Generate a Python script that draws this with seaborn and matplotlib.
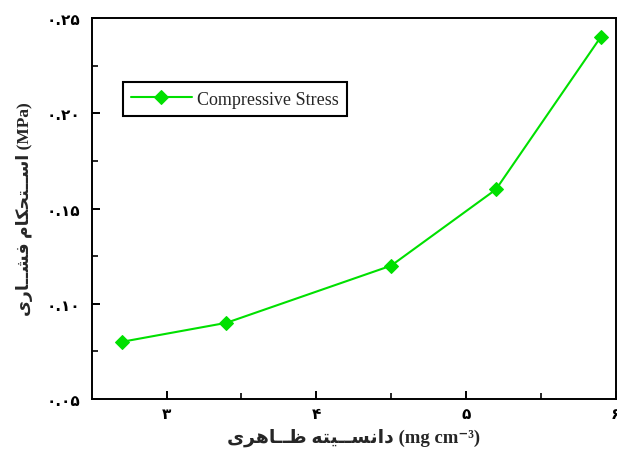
import matplotlib
matplotlib.use("Agg")
import matplotlib.pyplot as plt
import seaborn as sns
import pandas as pd
from matplotlib.ticker import FixedLocator, FixedFormatter

# ---- data ----
density = [2.7, 3.4, 4.5, 5.2, 5.9]
stress = [0.080, 0.090, 0.120, 0.160, 0.240]
series_name = "Compressive Stress"
x_ticks = [3, 4, 5, 6]
x_tick_labels = ["۳", "۴", "۵", "۶"]
y_ticks = [0.05, 0.10, 0.15, 0.20, 0.25]
y_tick_labels = ["۰.۰۵", "۰.۱۰", "۰.۱۵", "۰.۲۰", "۰.۲۵"]
x_label_fa = "دانســیته ظــاهری"
x_label_unit = "(mg cm⁻³)"
y_label_fa = "اســتحکام فشــاری"
y_label_unit = "(MPa)"

# ---- simple Persian shaping (presentation forms, visual order) ----
FORMS = {  # iso, fin, init, med  (None -> does not join to next)
    "ا": ("\uFE8D", "\uFE8E", None, None),
    "د": ("\uFEA9", "\uFEAA", None, None),
    "ر": ("\uFEAD", "\uFEAE", None, None),
    "ن": ("\uFEE5", "\uFEE6", "\uFEE7", "\uFEE8"),
    "س": ("\uFEB1", "\uFEB2", "\uFEB3", "\uFEB4"),
    "ش": ("\uFEB5", "\uFEB6", "\uFEB7", "\uFEB8"),
    "ی": ("\uFBFC", "\uFBFD", "\uFBFE", "\uFBFF"),
    "ت": ("\uFE95", "\uFE96", "\uFE97", "\uFE98"),
    "ه": ("\uFEE9", "\uFEEA", "\uFEEB", "\uFEEC"),
    "ظ": ("\uFEC5", "\uFEC6", "\uFEC7", "\uFEC8"),
    "ح": ("\uFEA1", "\uFEA2", "\uFEA3", "\uFEA4"),
    "ک": ("\uFB8E", "\uFB8F", "\uFB90", "\uFB91"),
    "م": ("\uFEE1", "\uFEE2", "\uFEE3", "\uFEE4"),
    "ف": ("\uFED1", "\uFED2", "\uFED3", "\uFED4"),
    "ـ": ("ـ", "ـ", "ـ", "ـ"),
}


def joins_next(c):
    return c in FORMS and FORMS[c][2] is not None


def joins_prev(c):
    return c in FORMS


def shape(text):
    out = []
    for i, c in enumerate(text):
        if c not in FORMS:
            out.append(c)
            continue
        prev = text[i - 1] if i > 0 else ""
        nxt = text[i + 1] if i + 1 < len(text) else ""
        jp = joins_next(prev) and joins_prev(c)
        jn = joins_next(c) and joins_prev(nxt)
        iso, fin, ini, med = FORMS[c]
        if jp and jn:
            out.append(med)
        elif jp:
            out.append(fin)
        elif jn:
            out.append(ini)
        else:
            out.append(iso)
    return "".join(out)[::-1]


sns.set_style("ticks")
plt.rcParams["font.family"] = ["DejaVu Sans"]

df = pd.DataFrame({"density": density, "stress": stress, "series": series_name})

fig = plt.figure(figsize=(6.17, 4.52), dpi=100)
ax = fig.add_axes([0.1486, 0.115, 0.8493, 0.843])

green = "#00e000"
sns.lineplot(data=df, x="density", y="stress", hue="series", palette=[green],
             marker="D", markersize=7, markeredgecolor=green, linewidth=1.5,
             ax=ax, legend=True)

ax.set_xlim(2.5, 6.0)
ax.set_ylim(0.05, 0.25)
ax.xaxis.set_major_locator(FixedLocator(x_ticks))
ax.xaxis.set_major_formatter(FixedFormatter(x_tick_labels))
ax.yaxis.set_major_locator(FixedLocator(y_ticks))
ax.yaxis.set_major_formatter(FixedFormatter(y_tick_labels))
ax.xaxis.set_minor_locator(FixedLocator([3.5, 4.5, 5.5]))
ax.yaxis.set_minor_locator(FixedLocator([0.075, 0.125, 0.175, 0.225]))

ax.tick_params(axis="y", which="major", direction="in", length=6, width=1.4,
               labelsize=11, pad=8, colors="black")
ax.tick_params(axis="x", which="major", direction="in", length=6, width=1.4,
               labelsize=11, pad=5, colors="black")
ax.tick_params(axis="both", which="minor", direction="in", length=4, width=1.4)
for lab in ax.get_xticklabels() + ax.get_yticklabels():
    lab.set_fontweight("bold")

for s in ax.spines.values():
    s.set_visible(True)
    s.set_linewidth(1.4)
    s.set_color("black")

ax.set_xlabel(shape(x_label_fa) + " " + x_label_unit,
              family=["Liberation Serif", "DejaVu Sans"], fontsize=13.5,
              fontweight="bold", labelpad=5)
ax.set_ylabel(shape(y_label_fa) + " " + y_label_unit,
              family=["Liberation Serif", "DejaVu Sans"], fontsize=12.5,
              fontweight="bold", labelpad=10)

handles, labels = ax.get_legend_handles_labels()
leg = ax.legend(handles, labels, loc="upper left", bbox_to_anchor=(0.059, 0.831),
                frameon=True, fancybox=False, shadow=False, framealpha=1,
                edgecolor="black", prop={"family": "Liberation Serif", "size": 13},
                handlelength=3.4, handletextpad=0.25, borderpad=0.45,
                borderaxespad=0)
leg.get_frame().set_linewidth(1.5)

fig.savefig("out.png", dpi=100, facecolor="white")
